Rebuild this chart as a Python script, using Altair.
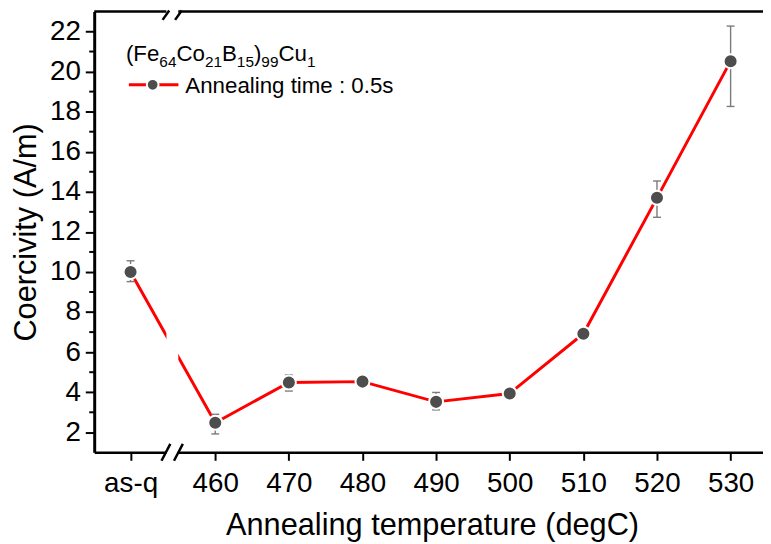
import altair as alt
import pandas as pd

# ---- data ----
labels = ["as-q", "460", "470", "480", "490", "500", "510", "520", "530"]
# position on the (broken) temperature axis; "as-q" sits left of the break
xpos = [448.5, 460, 470, 480, 490, 500, 510, 520, 530]
coercivity = [10.0, 2.48, 4.49, 4.53, 3.52, 3.94, 6.92, 13.70, 20.52]
err_low = [9.52, 1.92, 4.06, 4.38, 3.12, 3.80, 6.78, 12.73, 18.26]
err_high = [10.56, 2.90, 4.86, 4.68, 3.99, 4.08, 7.06, 14.54, 22.27]

y_major = [2, 4, 6, 8, 10, 12, 14, 16, 18, 20, 22]
y_minor = [3, 5, 7, 9, 11, 13, 15, 17, 19, 21]

x_domain = [443.56, 534.4]
y_domain = [1, 23]
break_lo, break_hi = 453.37, 454.98

df = pd.DataFrame({"label": labels, "xpos": xpos, "value": coercivity,
                   "lo": err_low, "hi": err_high})

W, H = 675, 445
FONT = "Liberation Sans"
one = alt.Data(values=[{}])

xscale = alt.Scale(domain=x_domain, nice=False, zero=False)
yscale = alt.Scale(domain=y_domain, nice=False, zero=False)

xaxis = alt.Axis(values=xpos, labelExpr="datum.value == 448.5 ? 'as-q' : datum.label",
                 title="Annealing temperature (degC)", grid=False,
                 labelFontSize=28, labelColor="black", labelPadding=9,
                 tickSize=8, tickWidth=2, tickColor="black",
                 domainWidth=2.5, domainColor="black",
                 titleFontSize=31, titleFontWeight="normal", titleColor="black",
                 titleX=341, titleY=83, titleBaseline="alphabetic", titleAlign="center",
                 labelFlush=False, labelOverlap=False)
yaxis = alt.Axis(values=y_major, title="Coercivity (A/m)", grid=False,
                 labelFontSize=28, labelColor="black", labelPadding=5,
                 tickSize=9, tickWidth=2, tickColor="black",
                 domainWidth=3, domainColor="black",
                 titleFontSize=31, titleFontWeight="normal", titleColor="black",
                 titleX=-59.5, titleY=H / 2, titleAngle=270, titleBaseline="alphabetic",
                 titleAlign="center", labelFlush=False, labelOverlap=False)

base = alt.Chart(df)

line = base.mark_line(color="#ff0000", strokeWidth=3).encode(
    x=alt.X("xpos:Q", scale=xscale, axis=xaxis),
    y=alt.Y("value:Q", scale=yscale, axis=yaxis),
)

top_frame = alt.Chart(one).mark_rule(color="black", strokeWidth=2.5).encode(
    x=alt.value(0), x2=alt.value(W), y=alt.value(0))

band = alt.Chart(one).mark_rect(color="white").encode(
    x=alt.datum(break_lo), x2=alt.datum(break_hi),
    y=alt.value(-4), y2=alt.value(H + 6))

slashes = []
for c in (453.3, 455.0):
    slashes.append(alt.Chart(one).mark_rule(color="black", strokeWidth=2.5).encode(
        x=alt.datum(c - 0.6), x2=alt.datum(c + 0.6),
        y=alt.value(H + 8.5), y2=alt.value(H - 8.5)))
    slashes.append(alt.Chart(one).mark_rule(color="black", strokeWidth=2.5).encode(
        x=alt.datum(c - 0.45), x2=alt.datum(c + 0.45),
        y=alt.value(8.5), y2=alt.value(-1)))

minor = alt.Chart(pd.DataFrame({"v": y_minor})).mark_rule(color="black", strokeWidth=2).encode(
    y=alt.Y("v:Q"), x=alt.value(-5), x2=alt.value(0))

ebar = base.mark_rule(color="#7a7a7a", strokeWidth=1.4).encode(
    x="xpos:Q", y="lo:Q", y2="hi:Q")
cap_lo = base.mark_rule(color="#7a7a7a", strokeWidth=1.4, xOffset=-4, x2Offset=4).encode(
    x="xpos:Q", x2="xpos:Q", y="lo:Q")
cap_hi = base.mark_rule(color="#7a7a7a", strokeWidth=1.4, xOffset=-4, x2Offset=4).encode(
    x="xpos:Q", x2="xpos:Q", y="hi:Q")

points = base.mark_circle(size=200, fill="#4d4d4d", stroke="white", strokeWidth=2,
                          opacity=1, fillOpacity=1).encode(x="xpos:Q", y="value:Q")

# ---- legend (drawn by hand) ----
widths = {"(": 0.333, ")": 0.333, "F": 0.611, "e": 0.556, "C": 0.722, "o": 0.556,
          "B": 0.667, "u": 0.556}
MAIN, SUB = 22.5, 15.5
segments = [("(Fe", False), ("64", True), ("Co", False), ("21", True), ("B", False),
            ("15", True), (")", False), ("99", True), ("Cu", False), ("1", True)]
legend_layers = []
px = 32.0
for seg, is_sub in segments:
    fs = SUB if is_sub else MAIN
    legend_layers.append(alt.Chart(one).mark_text(
        text=seg, fontSize=fs, font=FONT, align="left", baseline="alphabetic", color="black"
    ).encode(x=alt.value(px), y=alt.value(56 if is_sub else 50.5)))
    px += sum(widths.get(ch, 0.556) for ch in seg) * fs

leg_line = alt.Chart(one).mark_rule(color="#ff0000", strokeWidth=3).encode(
    x=alt.value(35), x2=alt.value(85), y=alt.value(74))
leg_pt = alt.Chart(one).mark_circle(size=140, fill="#4d4d4d", stroke="white", strokeWidth=2,
                                    opacity=1).encode(x=alt.value(59), y=alt.value(74))
leg_txt = alt.Chart(one).mark_text(text="Annealing time : 0.5s", fontSize=MAIN, font=FONT,
                                   align="left", baseline="alphabetic", color="black").encode(
    x=alt.value(92), y=alt.value(82.5))

chart = alt.layer(
    top_frame, line, band, *slashes, minor, ebar, cap_lo, cap_hi, points,
    *legend_layers, leg_line, leg_pt, leg_txt
).properties(
    width=W, height=H,
    autosize=alt.AutoSizeParams(type="none"),
    padding={"left": 87, "top": 1, "right": 0, "bottom": 90},
).configure(font=FONT).configure_view(stroke=None)

chart.save("out.html", embed_options={"renderer": "svg", "actions": False})
